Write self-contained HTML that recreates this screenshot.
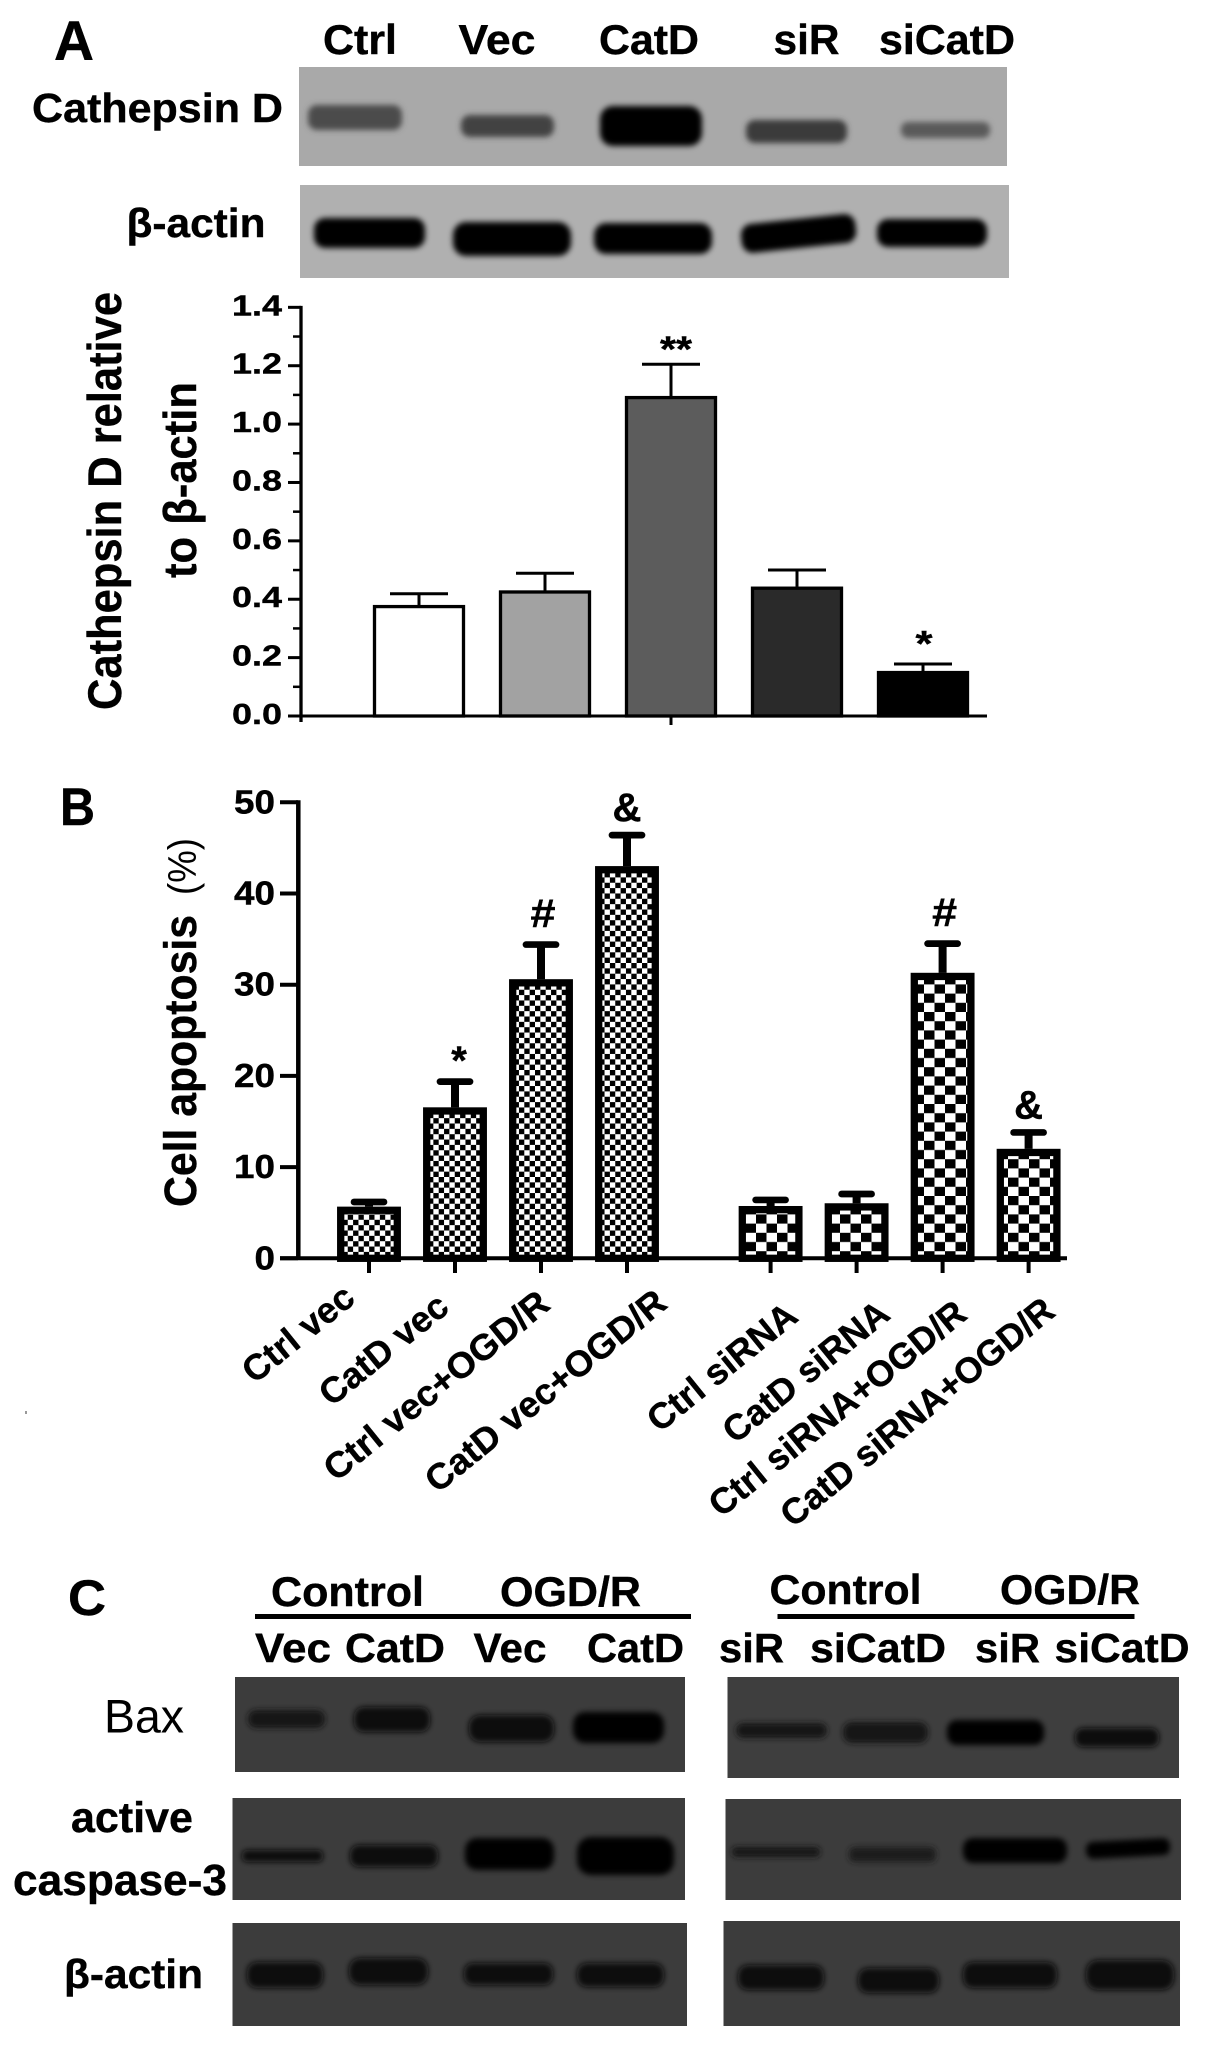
<!DOCTYPE html>
<html lang="en">
<head>
<meta charset="utf-8">
<title>Cathepsin D figure</title>
<style>
html,body{margin:0;padding:0;background:#fff;}
svg{display:block;}
text{font-family:"Liberation Sans",sans-serif;fill:#000;}
.b{font-weight:700;stroke:#000;stroke-width:.4px;}
</style>
</head>
<body>
<svg id="figure" xmlns="http://www.w3.org/2000/svg" width="1205" height="2046" viewBox="0 0 1205 2046">
<defs>
<filter id="soft" x="-30%" y="-80%" width="160%" height="260%"><feGaussianBlur stdDeviation="3"/></filter>
<pattern id="fine-check" patternUnits="userSpaceOnUse" width="10.7" height="10.7">
<rect width="10.7" height="10.7" fill="#fff"/>
<rect x="0" y="0" width="5.35" height="5.35" fill="#000"/>
<rect x="5.35" y="5.35" width="5.35" height="5.35" fill="#000"/>
</pattern>
<pattern id="coarse-check" patternUnits="userSpaceOnUse" width="21" height="18.4">
<rect width="21" height="18.4" fill="#fff"/>
<rect x="0" y="0" width="10.5" height="9.2" fill="#000"/>
<rect x="10.5" y="9.2" width="10.5" height="9.2" fill="#000"/>
</pattern>
</defs>

<!-- Panel A blots -->
<g>
<text class="b" x="54" y="60" font-size="56" textLength="40" lengthAdjust="spacingAndGlyphs">A</text>
<text class="b" x="323" y="54" font-size="42" textLength="74" lengthAdjust="spacingAndGlyphs">Ctrl</text>
<text class="b" x="458.5" y="54" font-size="42" textLength="77" lengthAdjust="spacingAndGlyphs">Vec</text>
<text class="b" x="599" y="54" font-size="42" textLength="100" lengthAdjust="spacingAndGlyphs">CatD</text>
<text class="b" x="773.5" y="54" font-size="42" textLength="66" lengthAdjust="spacingAndGlyphs">siR</text>
<text class="b" x="879" y="54" font-size="42" textLength="136" lengthAdjust="spacingAndGlyphs">siCatD</text>
<text class="b" x="32" y="122" font-size="41" textLength="251" lengthAdjust="spacingAndGlyphs">Cathepsin D</text>
<text class="b" x="126.5" y="237" font-size="41" textLength="139" lengthAdjust="spacingAndGlyphs">β-actin</text>

<rect x="299" y="67" width="708" height="99" fill="#a9a9a9"/>
<g filter="url(#soft)">
<rect x="308" y="105" width="94" height="25" rx="9" fill="#4c4c4c"/>
<rect x="461" y="115" width="93" height="22" rx="9" fill="#424242"/>
<rect x="600" y="106" width="102" height="40" rx="13" fill="#000"/>
<rect x="746" y="120" width="101" height="23" rx="9" fill="#3a3a3a"/>
<rect x="901" y="122" width="89" height="16" rx="7" fill="#5a5a5a"/>
</g>
<rect x="300" y="185" width="709" height="93" fill="#b0b0b0"/>
<g filter="url(#soft)">
<rect x="314" y="218" width="111" height="30" rx="11" fill="#000"/>
<rect x="453" y="222" width="118" height="34" rx="13" fill="#000"/>
<rect x="594" y="223" width="118" height="31" rx="12" fill="#000"/>
<rect x="741" y="219" width="115" height="29" rx="11" fill="#000" transform="rotate(-6 798 233)"/>
<rect x="877" y="219" width="110" height="28" rx="11" fill="#000"/>
</g>
</g>

<!-- Chart A static titles -->
<g>
<text class="b" transform="translate(121,710) rotate(-90)" font-size="47" textLength="418" lengthAdjust="spacingAndGlyphs">Cathepsin D relative</text>
<text class="b" transform="translate(196,578) rotate(-90)" font-size="46" textLength="196" lengthAdjust="spacingAndGlyphs">to β-actin</text>
</g>
<g id="chart-a"></g>

<!-- Chart B static -->
<g>
<text class="b" x="60" y="825" font-size="53" textLength="35" lengthAdjust="spacingAndGlyphs">B</text>
<text class="b" transform="translate(196,1207) rotate(-90)" font-size="45" textLength="292" lengthAdjust="spacingAndGlyphs">Cell apoptosis</text>
<text transform="translate(196,895) rotate(-90)" font-size="40" textLength="57" lengthAdjust="spacingAndGlyphs">(%)</text>
</g>
<g id="chart-b"></g>
<g font-size="36" class="b" text-anchor="end">
<text transform="translate(357,1301.5) rotate(-39)" textLength="132" lengthAdjust="spacingAndGlyphs">Ctrl vec</text>
<text transform="translate(451,1310.5) rotate(-39)" textLength="154" lengthAdjust="spacingAndGlyphs">CatD vec</text>
<text transform="translate(552,1307.5) rotate(-39)" textLength="278" lengthAdjust="spacingAndGlyphs">Ctrl vec+OGD/R</text>
<text transform="translate(669,1306.5) rotate(-39)" textLength="298" lengthAdjust="spacingAndGlyphs">CatD vec+OGD/R</text>
<text transform="translate(800,1319.5) rotate(-39)" textLength="181" lengthAdjust="spacingAndGlyphs">Ctrl siRNA</text>
<text transform="translate(892,1317.5) rotate(-39)" textLength="202" lengthAdjust="spacingAndGlyphs">CatD siRNA</text>
<text transform="translate(969,1317.5) rotate(-39)" textLength="319" lengthAdjust="spacingAndGlyphs">Ctrl siRNA+OGD/R</text>
<text transform="translate(1057,1314.5) rotate(-39)" textLength="340" lengthAdjust="spacingAndGlyphs">CatD siRNA+OGD/R</text>
</g>
<rect x="25" y="1411" width="2" height="3" fill="#999"/>

<!-- Panel C -->
<g>
<text class="b" x="68" y="1615" font-size="50" textLength="38" lengthAdjust="spacingAndGlyphs">C</text>
<text class="b" x="271" y="1606" font-size="42" textLength="153" lengthAdjust="spacingAndGlyphs">Control</text>
<text class="b" x="500" y="1606" font-size="42" textLength="141" lengthAdjust="spacingAndGlyphs">OGD/R</text>
<text class="b" x="769.5" y="1604" font-size="42" textLength="152" lengthAdjust="spacingAndGlyphs">Control</text>
<text class="b" x="1000" y="1604" font-size="42" textLength="140" lengthAdjust="spacingAndGlyphs">OGD/R</text>
<rect x="255" y="1614" width="436" height="5" fill="#000"/>
<rect x="777.5" y="1614" width="357" height="5" fill="#000"/>
<text class="b" x="255" y="1662" font-size="41" textLength="76" lengthAdjust="spacingAndGlyphs">Vec</text>
<text class="b" x="345" y="1662" font-size="41" textLength="100" lengthAdjust="spacingAndGlyphs">CatD</text>
<text class="b" x="473.5" y="1662" font-size="41" textLength="73" lengthAdjust="spacingAndGlyphs">Vec</text>
<text class="b" x="587" y="1662" font-size="41" textLength="97" lengthAdjust="spacingAndGlyphs">CatD</text>
<text class="b" x="719" y="1662" font-size="41" textLength="65" lengthAdjust="spacingAndGlyphs">siR</text>
<text class="b" x="810" y="1662" font-size="41" textLength="136" lengthAdjust="spacingAndGlyphs">siCatD</text>
<text class="b" x="975" y="1662" font-size="41" textLength="65" lengthAdjust="spacingAndGlyphs">siR</text>
<text class="b" x="1054.5" y="1662" font-size="41" textLength="135" lengthAdjust="spacingAndGlyphs">siCatD</text>

<text x="104" y="1732.5" font-size="47" textLength="80" lengthAdjust="spacingAndGlyphs">Bax</text>
<text class="b" x="71" y="1832" font-size="43" textLength="122" lengthAdjust="spacingAndGlyphs">active</text>
<text class="b" x="13" y="1895" font-size="44" textLength="214" lengthAdjust="spacingAndGlyphs">caspase-3</text>
<text class="b" x="64" y="1988" font-size="41" textLength="139" lengthAdjust="spacingAndGlyphs">β-actin</text>

<rect x="235" y="1677" width="450" height="95" fill="#3c3c3c"/>
<rect x="727.5" y="1677" width="451.5" height="101" fill="#3e3e3e"/>
<rect x="232.5" y="1798" width="452.5" height="102" fill="#3c3c3c"/>
<rect x="725.5" y="1799" width="455.5" height="101" fill="#3c3c3c"/>
<rect x="232.5" y="1923" width="454.5" height="103" fill="#3c3c3c"/>
<rect x="723.5" y="1921" width="456.5" height="105" fill="#3c3c3c"/>

<g filter="url(#soft)">
<rect x="248" y="1710" width="77" height="18" rx="8" fill="#141414"/>
<rect x="354" y="1707" width="76" height="25" rx="10" fill="#101010"/>
<rect x="469" y="1715" width="85" height="27" rx="11" fill="#0a0a0a"/>
<rect x="573" y="1712" width="91" height="31" rx="12" fill="#060606"/>
<rect x="736" y="1723" width="91" height="15" rx="7" fill="#181818"/>
<rect x="843" y="1722" width="85" height="21" rx="9" fill="#121212"/>
<rect x="947" y="1720" width="97" height="25" rx="10" fill="#040404"/>
<rect x="1075" y="1728" width="84" height="19" rx="8" fill="#0e0e0e"/>
</g>
<g filter="url(#soft)">
<rect x="242" y="1850" width="81" height="12" rx="5" fill="#0e0e0e"/>
<rect x="350" y="1845" width="88" height="22" rx="9" fill="#0a0a0a"/>
<rect x="465" y="1838" width="89" height="32" rx="12" fill="#060606"/>
<rect x="577" y="1837" width="97" height="38" rx="14" fill="#030303"/>
<rect x="732" y="1847" width="88" height="10" rx="4" fill="#141414"/>
<rect x="849" y="1847" width="87" height="15" rx="6" fill="#1e1e1e"/>
<rect x="963" y="1838" width="104" height="25" rx="10" fill="#000"/>
<rect x="1086" y="1840" width="84" height="17" rx="7" fill="#000" transform="rotate(-3 1128 1848)"/>
</g>
<g filter="url(#soft)">
<rect x="247" y="1962" width="76" height="26" rx="10" fill="#090909"/>
<rect x="349" y="1958" width="79" height="27" rx="11" fill="#090909"/>
<rect x="464" y="1963" width="89" height="22" rx="9" fill="#090909"/>
<rect x="577" y="1963" width="87" height="24" rx="10" fill="#0a0a0a"/>
<rect x="738" y="1965" width="86" height="25" rx="10" fill="#090909"/>
<rect x="858" y="1968" width="81" height="25" rx="10" fill="#090909"/>
<rect x="963" y="1962" width="94" height="26" rx="10" fill="#080808"/>
<rect x="1086" y="1960" width="88" height="30" rx="12" fill="#090909"/>
</g>
</g>
</svg>

<script>
// ---- Chart A data ----
var categoriesA = ['Ctrl', 'Vec', 'CatD', 'siR', 'siCatD'];
var valuesA = [0.38, 0.43, 1.096, 0.443, 0.154];
var errorTopsA = [0.419, 0.489, 1.205, 0.50, 0.178];
var sigMarksA = ['', '', '**', '', '*'];
var tickValuesA = [0, 0.2, 0.4, 0.6, 0.8, 1.0, 1.2, 1.4];
var tickLabelsA = ['0.0', '0.2', '0.4', '0.6', '0.8', '1.0', '1.2', '1.4'];
var minorTicksA = [0.1, 0.3, 0.5, 0.7, 0.9, 1.1, 1.3];

// ---- Chart B data ----
var categoriesB = ['Ctrl vec', 'CatD vec', 'Ctrl vec+OGD/R', 'CatD vec+OGD/R', 'Ctrl siRNA', 'CatD siRNA', 'Ctrl siRNA+OGD/R', 'CatD siRNA+OGD/R'];
var valuesB = [5.66, 16.55, 30.6, 43.0, 5.73, 6.03, 31.3, 12.0];
var errorTopsB = [6.17, 19.37, 34.4, 46.4, 6.4, 7.05, 34.5, 13.8];
var sigMarksB = ['', '*', '#', '&', '', '', '#', '&'];
var tickValuesB = [0, 10, 20, 30, 40, 50];
var tickLabelsB = ['0', '10', '20', '30', '40', '50'];

var SVGNS = 'http://www.w3.org/2000/svg';

function yA(v) { return 716 - v * 291.9; }
function xA(i) { return 419 + i * 126; }
function fillA(i) { return ['#ffffff', '#a2a2a2', '#5c5c5c', '#2a2a2a', '#000000'][i]; }
function yB(v) { return 1258.3 - v * 9.12; }
function xB(i) { return 369 + i * 86 + (i >= 4 ? 57.6 : 0); }
function patternB(i) { return i >= 4 ? 'url(#coarse-check)' : 'url(#fine-check)'; }
function liftB(m) { return m === '*' ? 7.5 : m === '#' ? 17.5 : 14; }
function nudgeB(m) { return m === '*' ? 4 : m === '#' ? 2 : 0; }

function make(tag, parent) {
  var el = document.createElementNS(SVGNS, tag);
  parent.appendChild(el);
  return el;
}
function line(parent, x1, y1, x2, y2, w, cap) {
  var l = make('line', parent);
  l.setAttribute('x1', x1);
  l.setAttribute('y1', y1);
  l.setAttribute('x2', x2);
  l.setAttribute('y2', y2);
  l.setAttribute('stroke', '#000');
  l.setAttribute('stroke-width', w);
  if (cap) l.setAttribute('stroke-linecap', cap);
  return l;
}
function label(parent, str, x, y, size, anchor, len) {
  var t = make('text', parent);
  t.setAttribute('x', x);
  t.setAttribute('y', y);
  t.setAttribute('font-size', size);
  t.setAttribute('class', 'b');
  t.setAttribute('text-anchor', anchor);
  if (len) {
    t.setAttribute('textLength', len);
    t.setAttribute('lengthAdjust', 'spacingAndGlyphs');
  }
  t.textContent = str;
  return t;
}

// ---- Draw chart A ----
var chartA = document.getElementById('chart-a');
categoriesA.forEach(function (cat, i) {
  var cx = xA(i);
  var top = yA(valuesA[i]);
  var errTop = yA(errorTopsA[i]);
  var stem = line(chartA, cx, errTop, cx, top, 3);
  
  
  var cap = line(chartA, cx - 29, errTop, cx + 29, errTop, 3);
  
  
  var bar = make('rect', chartA);
  bar.setAttribute('x', cx - 44.5);
  bar.setAttribute('y', top + 1.5);
  bar.setAttribute('width', 89);
  bar.setAttribute('height', yA(0) - top - 1.5);
  bar.setAttribute('fill', fillA(i));
  bar.setAttribute('stroke', '#000');
  bar.setAttribute('stroke-width', 3.3);
  
  
  if (sigMarksA[i]) {
    var isDouble = sigMarksA[i].length > 1;
    var mark = label(chartA, sigMarksA[i], cx + (isDouble ? 5 : 1), errTop - (isDouble ? 3 : 8), 36, 'middle', 15 * sigMarksA[i].length + 2);
    
    
  }
});
tickValuesA.forEach(function (v, i) {
  var tick = line(chartA, 288, yA(v), 301, yA(v), 3);
  
  
  var tl = label(chartA, tickLabelsA[i], 282, yA(v) + 8, 29, 'end', 50);
  
  
});
minorTicksA.forEach(function (v) {
  var mt = line(chartA, 293, yA(v), 301, yA(v), 2.5);
  
  
});
var axisAY = line(chartA, 301, yA(1.4) - 1.5, 301, 722, 3.3);


var axisAX = line(chartA, 288, yA(0), 987, yA(0), 3);


var xTickA = line(chartA, xA(2), yA(0), xA(2), 725, 3);



// ---- Draw chart B ----
var chartB = document.getElementById('chart-b');
categoriesB.forEach(function (cat, i) {
  var cx = xB(i);
  var top = yB(valuesB[i]);
  var errTop = yB(errorTopsB[i]);
  var stem = line(chartB, cx, errTop, cx, top, 8);
  
  
  var cap = line(chartB, cx - 15, errTop, cx + 15, errTop, 6.7, 'round');
  
  
  var bar = make('rect', chartB);
  bar.setAttribute('x', cx - 28.3);
  bar.setAttribute('y', top + 3.6);
  bar.setAttribute('width', 56.6);
  bar.setAttribute('height', yB(0) - top - 3.6);
  bar.setAttribute('fill', patternB(i));
  bar.setAttribute('stroke', '#000');
  bar.setAttribute('stroke-width', 7.3);
  
  
  var tick = line(chartB, cx, yB(0), cx, 1273, 4);
  
  
  var sym = sigMarksB[i];
  if (sym) {
    var mark = label(chartB, sym, cx + nudgeB(sym), errTop - liftB(sym), sym === '*' ? 40 : 40, 'middle', sym === '#' ? 25 : 0);
    
    
  }
});
tickValuesB.forEach(function (v, i) {
  var tick = line(chartB, 280, yB(v), 298, yB(v), 4);
  
  
  var tl = label(chartB, tickLabelsB[i], 275, yB(v) + 11, 33, 'end', tickLabelsB[i].length * 20.5);
  
  
});
var axisBY = line(chartB, 298.3, yB(50) - 2, 298.3, yB(0), 4.5);


var axisBX = line(chartB, 280, yB(0), 1067, yB(0), 4);


</script>
</body>
</html>
